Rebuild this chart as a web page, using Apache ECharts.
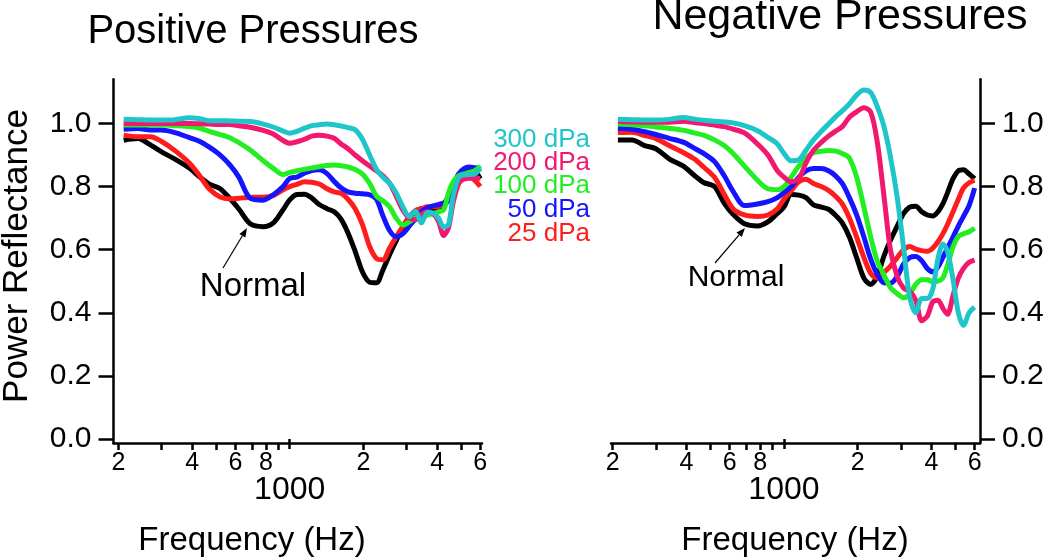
<!DOCTYPE html>
<html><head><meta charset="utf-8">
<script src="https://cdn.jsdelivr.net/npm/echarts@6/dist/echarts.min.js"></script>
<style>html,body{margin:0;padding:0;background:#fff}#c{width:1050px;height:560px}</style>
</head><body><div id="c"></div>
<script>
// Frequency grid (Hz)
const freqs = [210,240,270,300,340,390,430,470,520,570,620,690,780,860,940,1000,1070,1150,1230,1320,1420,1520,1620,1730,1850,1980,2120,2260,2400,2560,2720,2900,3080,3260,3450,3650,3850,4050,4250,4450,4650,4900,5150,5400,5700,6000];
const tickFreqs = [200,300,400,500,600,700,800,900,2000,3000,4000,5000,6000];
const labelFreqs = [200,400,600,800,2000,4000,6000];
const majorFreqs = [1000];
const yTicks = [0,0.2,0.4,0.6,0.8,1.0];
const pressureLabels = ['300 dPa','200 dPa','100 dPa','50 dPa','25 dPa'];

// Positive pressures panel
const posNormal = [0.947,0.952,0.932,0.91,0.887,0.858,0.83,0.808,0.793,0.762,0.729,0.682,0.673,0.686,0.727,0.758,0.775,0.776,0.764,0.743,0.730,0.72,0.697,0.653,0.595,0.53,0.497,0.495,0.535,0.585,0.628,0.672,0.70,0.72,0.730,0.725,0.722,0.721,0.737,0.760,0.80,0.84,0.849,0.853,0.849,0.825];
const pos25 = [0.963,0.958,0.958,0.943,0.914,0.874,0.833,0.792,0.767,0.761,0.763,0.766,0.766,0.772,0.790,0.80,0.807,0.815,0.814,0.808,0.793,0.783,0.779,0.76,0.73,0.68,0.61,0.572,0.568,0.606,0.64,0.675,0.705,0.724,0.73,0.736,0.736,0.737,0.745,0.77,0.80,0.826,0.831,0.831,0.82,0.80];
const pos50 = [0.982,0.984,0.979,0.979,0.971,0.955,0.943,0.925,0.90,0.869,0.83,0.763,0.757,0.775,0.80,0.826,0.83,0.843,0.851,0.853,0.841,0.816,0.796,0.783,0.779,0.777,0.774,0.76,0.708,0.66,0.641,0.651,0.675,0.698,0.72,0.733,0.739,0.743,0.748,0.756,0.80,0.84,0.857,0.862,0.86,0.858];
const pos100 = [0.995,0.995,0.995,0.995,0.993,0.990,0.985,0.975,0.965,0.955,0.939,0.916,0.882,0.857,0.838,0.845,0.85,0.855,0.859,0.863,0.867,0.868,0.866,0.862,0.854,0.84,0.81,0.77,0.755,0.735,0.70,0.678,0.688,0.70,0.706,0.71,0.714,0.72,0.726,0.78,0.815,0.835,0.84,0.845,0.85,0.865];
const pos200 = [1.0,1.0,1.0,1.0,1.0,1.0,0.999,0.998,0.997,0.997,0.993,0.988,0.978,0.966,0.946,0.937,0.942,0.95,0.96,0.963,0.96,0.953,0.935,0.92,0.90,0.882,0.865,0.85,0.835,0.81,0.77,0.725,0.70,0.695,0.712,0.72,0.714,0.69,0.645,0.67,0.75,0.81,0.824,0.826,0.826,0.826];
const pos300 = [1.013,1.012,1.011,1.011,1.012,1.018,1.015,1.009,1.009,1.008,1.007,1.006,0.998,0.988,0.976,0.969,0.975,0.985,0.993,0.996,0.998,0.996,0.992,0.987,0.98,0.95,0.90,0.855,0.83,0.81,0.78,0.735,0.705,0.722,0.685,0.718,0.716,0.70,0.672,0.68,0.77,0.83,0.837,0.838,0.84,0.858];

// Negative pressures panel
const negNormal = [0.948,0.948,0.93,0.92,0.888,0.864,0.836,0.813,0.80,0.748,0.712,0.682,0.675,0.688,0.715,0.735,0.775,0.773,0.765,0.742,0.735,0.728,0.71,0.685,0.64,0.575,0.51,0.49,0.515,0.58,0.63,0.675,0.715,0.735,0.738,0.72,0.71,0.707,0.72,0.745,0.78,0.825,0.85,0.853,0.84,0.825];
const neg25 = [0.971,0.972,0.962,0.952,0.93,0.907,0.888,0.862,0.83,0.776,0.73,0.71,0.705,0.71,0.73,0.76,0.787,0.815,0.823,0.81,0.80,0.788,0.77,0.745,0.70,0.64,0.575,0.525,0.51,0.528,0.548,0.575,0.60,0.61,0.602,0.597,0.595,0.605,0.625,0.65,0.68,0.72,0.76,0.795,0.812,0.82];
const neg50 = [0.985,0.982,0.974,0.965,0.953,0.94,0.922,0.905,0.88,0.835,0.785,0.74,0.745,0.752,0.765,0.781,0.80,0.83,0.85,0.857,0.857,0.85,0.835,0.81,0.765,0.71,0.64,0.57,0.523,0.495,0.494,0.515,0.555,0.575,0.578,0.565,0.54,0.53,0.545,0.575,0.605,0.64,0.675,0.705,0.74,0.795];
const neg100 = [0.998,0.996,0.993,0.989,0.985,0.978,0.97,0.963,0.948,0.93,0.905,0.865,0.82,0.793,0.79,0.80,0.83,0.865,0.89,0.908,0.912,0.914,0.913,0.905,0.89,0.83,0.735,0.64,0.565,0.52,0.48,0.46,0.448,0.458,0.49,0.505,0.505,0.498,0.50,0.51,0.55,0.61,0.642,0.65,0.657,0.668];
const neg200 = [1.006,1.005,1.004,1.004,1.004,1.007,1.003,1.0,0.995,0.99,0.982,0.97,0.935,0.90,0.85,0.83,0.815,0.825,0.875,0.915,0.94,0.96,0.975,0.99,1.02,1.037,1.05,1.036,0.945,0.77,0.60,0.515,0.478,0.468,0.44,0.375,0.39,0.435,0.44,0.415,0.395,0.455,0.51,0.54,0.56,0.567];
const neg300 = [1.013,1.012,1.011,1.011,1.013,1.019,1.014,1.01,1.007,1.005,1.002,0.993,0.977,0.956,0.935,0.905,0.882,0.885,0.915,0.948,0.975,0.998,1.02,1.04,1.062,1.09,1.106,1.098,1.055,0.99,0.895,0.765,0.605,0.45,0.40,0.445,0.445,0.475,0.57,0.618,0.595,0.505,0.40,0.36,0.40,0.418];

const colors = {n:'#000000', p25:'#ff1c1c', p50:'#1414ff', p100:'#22ee22', p200:'#f2186e', p300:'#1fc6c9'};
const FONT = 'Liberation Sans, Arial, Helvetica, sans-serif';
const lg = Math.log10;

function pairs(vals){ return freqs.map((f,i)=>[lg(f), vals[i]]); }

const grids = [
  {left:113.5, width:368.5, top:79.3, height:363.7},
  {left:611, width:369, top:79.3, height:363.7}
];
const xRanges = [[2.2806, 3.7851],[2.2941, 3.8002]];

const xAxes = [], yAxes = [];
[0,1].forEach(g=>{
  xAxes.push({
    type:'value', gridIndex:g, position:'bottom', min:xRanges[g][0], max:xRanges[g][1],
    splitLine:{show:false},
    axisLine:{show:true, onZero:false, lineStyle:{color:'#000', width:2.5}},
    axisTick:{show:true, inside:false, length:7, lineStyle:{color:'#000', width:2.5}, customValues: tickFreqs.map(lg)},
    axisLabel:{show:true, margin:8, fontSize:25, color:'#000', fontFamily:FONT, customValues: labelFreqs.map(lg),
      formatter: v => { const f = Math.round(Math.pow(10, v)); return String(f < 1000 ? Math.round(f/100) : Math.round(f/1000)); }}
  });
  xAxes.push({
    type:'value', gridIndex:g, position:'bottom', min:xRanges[g][0], max:xRanges[g][1],
    splitLine:{show:false},
    axisLine:{show:false},
    axisTick:{show:true, inside:false, length:10, lineStyle:{color:'#000', width:2.5}, customValues: majorFreqs.map(lg)},
    axisLabel:{show:true, margin:31, fontSize:32, color:'#000', fontFamily:FONT, customValues: majorFreqs.map(lg),
      formatter: v => String(Math.round(Math.pow(10, v)))}
  });
  yAxes.push({
    type:'value', gridIndex:g, position: g===0 ? 'left' : 'right', min:-0.0127, max:1.14,
    splitLine:{show:false},
    axisLine:{show:true, onZero:false, lineStyle:{color:'#000', width:2.5}},
    axisTick:{show:true, inside:false, length:15, lineStyle:{color:'#000', width:2.5}, customValues: yTicks},
    axisLabel:{show:true, margin:22, fontSize:30, color:'#000', fontFamily:FONT, customValues: yTicks,
      formatter: v => v.toFixed(1)}
  });
});

function line(g, vals, color){
  return {type:'line', xAxisIndex: g*2, yAxisIndex: g, data: pairs(vals), showSymbol:false, smooth:0.3,
    lineStyle:{color, width:5}, itemStyle:{color}, silent:true, animation:false, clip:false};
}

const series = [
  line(0,posNormal,colors.n), line(0,pos25,colors.p25), line(0,pos50,colors.p50), line(0,pos100,colors.p100), line(0,pos200,colors.p200), line(0,pos300,colors.p300),
  line(1,negNormal,colors.n), line(1,neg25,colors.p25), line(1,neg50,colors.p50), line(1,neg100,colors.p100), line(1,neg200,colors.p200), line(1,neg300,colors.p300)
];

function txt(x, y, text, size, color, rot){
  return {type:'text', x, y, rotation: rot||0, z:100,
    style:{text, fontSize:size, fontFamily:FONT, fill:color||'#000', align:'center', verticalAlign:'middle'}};
}
function arrow(x1,y1,x2,y2){
  const dx=x2-x1, dy=y2-y1, L=Math.hypot(dx,dy), ux=dx/L, uy=dy/L, h=9, w=3.5;
  const bx=x2-ux*h, by=y2-uy*h;
  return [
    {type:'line', z:100, shape:{x1,y1,x2:bx,y2:by}, style:{stroke:'#000', lineWidth:1.2}},
    {type:'polygon', z:100, shape:{points:[[x2,y2],[bx-uy*w,by+ux*w],[bx+uy*w,by-ux*w]]}, style:{fill:'#000'}}
  ];
}
const legendColors = [colors.p300, colors.p200, colors.p100, colors.p50, colors.p25];
const legendY = [140, 163, 186, 210, 234];
const graphic = [
  txt(253, 32, 'Positive Pressures', 40),
  txt(840, 17, 'Negative Pressures', 43),
  txt(17, 256, 'Power Reflectance', 35, '#000', Math.PI/2),
  txt(252, 541, 'Frequency (Hz)', 33),
  txt(795, 541, 'Frequency (Hz)', 33),
  txt(253, 287, 'Normal', 33),
  txt(736, 278, 'Normal', 30),
  ...arrow(223, 268, 247, 228),
  ...arrow(715, 263, 745, 228),
  ...pressureLabels.map((t,i)=>({type:'text', x:590, y:legendY[i], z:100,
     style:{text:t, fontSize:26, fontFamily:FONT, fill:legendColors[i], align:'right', verticalAlign:'middle'}}))
];

const chart = echarts.init(document.getElementById('c'), null, {renderer:'canvas'});
chart.setOption({
  animation:false,
  backgroundColor:'#fff',
  grid: grids,
  xAxis: xAxes,
  yAxis: yAxes,
  series,
  graphic
});
</script>
</body></html>
